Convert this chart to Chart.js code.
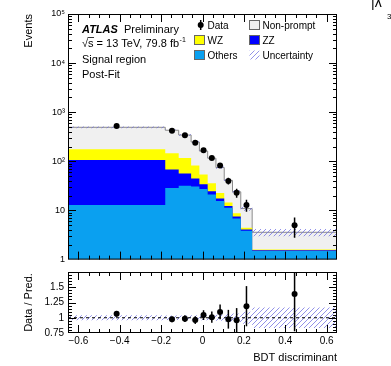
<!DOCTYPE html>
<html>
<head>
<meta charset="utf-8">
<script src="https://cdn.jsdelivr.net/npm/chart.js@4"></script>
<style>
  html, body { margin: 0; padding: 0; background: #fff; }
  #wrap { position: relative; width: 391px; height: 366px; overflow: hidden; }
  canvas { position: absolute; left: 0; }
  #main { top: 0; }
  #ratio { top: 262px; }
</style>
</head>
<body>
<div id="wrap">
  <canvas id="main" width="391" height="268"></canvas>
  <canvas id="ratio" width="391" height="104"></canvas>
</div>
<script>
// BDT bins (variable width)
const binEdges = [-0.65, -0.18, -0.115, -0.055, -0.015, 0.025, 0.065, 0.105, 0.145, 0.185, 0.24, 0.65];

// observed events and their errors
const dataCounts = [526, 419, 339, 238, 169, 117, 82, 40, 23, 13, 5];
const dataErr = [23, 20.5, 18.4, 15.4, 13, 10.8, 9.1, 6.3, 4.8, 3.6, 2.2];

// post-fit predictions per process
const others = [13, 28.6, 32, 30.7, 27.3, 21.1, 15.6, 11.3, 6.85, 3.86, 1.49];
const zz = [94, 39.4, 24.6, 14.3, 7.0, 3.4, 2.0, 1.1, 0.65, 0.24, 0.06];
const wz = [70, 79, 60.4, 37.6, 19.7, 11.4, 5.2, 2.1, 1.3, 0.33, 0.05];
const nonPrompt = [317, 283, 227, 165, 108, 80, 52, 26.5, 15.2, 6.5, 2.0];

// relative uncertainty on the total prediction
const relUnc = [0.04, 0.035, 0.035, 0.04, 0.04, 0.045, 0.05, 0.06, 0.07, 0.1, 0.17];

// axis ticks
const xTicks = [-0.6, -0.4, -0.2, 0, 0.2, 0.4, 0.6];
const logTicks = [1, 10, 100, 1000, 10000, 100000];
const logTickLabels = ['1', '10', '10²', '10³', '10⁴', '10⁵'];
const ratioTicks = [0.75, 1, 1.25, 1.5];
const ratioTickLabels = ['0.75', '1', '1.25', '1.5'];

const FONT = "'Liberation Sans', Arial, Helvetica, sans-serif";
Chart.defaults.font.family = FONT;
Chart.defaults.color = '#000';

const centers = binEdges.slice(0, -1).map((e, i) => (e + binEdges[i + 1]) / 2);

function addUp(a, b) { return a.map((v, i) => v + b[i]); }
const topOthers = others;
const topZZ = addUp(topOthers, zz);
const topWZ = addUp(topZZ, wz);
const total = addUp(topWZ, nonPrompt);

// histogram outline: one point per left edge + closing point
function steps(vals) {
  const pts = vals.map((v, i) => ({x: binEdges[i], y: v}));
  pts.push({x: binEdges[binEdges.length - 1], y: vals[vals.length - 1]});
  return pts;
}

function hatch(ctx) {
  const c = document.createElement('canvas');
  c.width = 5; c.height = 5;
  const g = c.getContext('2d');
  g.strokeStyle = 'rgba(110,110,225,0.75)';
  g.lineWidth = 1;
  g.beginPath();
  g.moveTo(0, 5); g.lineTo(5, 0);
  g.moveTo(-1, 1); g.lineTo(1, -1);
  g.moveTo(4, 6); g.lineTo(6, 4);
  g.stroke();
  return ctx.createPattern(c, 'repeat');
}

function layer(vals, color, order, border) {
  return {
    data: steps(vals), stepped: true, fill: 'start',
    backgroundColor: color, borderColor: border || 'rgba(0,0,0,0)',
    borderWidth: border ? 1 : 0, pointRadius: 0, order: order
  };
}

function fmtX(v) { return v < 0 ? '\u2212' + Math.abs(v) : String(v); }

// error bars drawn through the data markers
function errorBars(ys, errs) {
  return {
    id: 'errBars',
    afterDatasetsDraw(chart) {
      const {ctx, chartArea: a, scales: {x, y}} = chart;
      ctx.save();
      ctx.beginPath();
      ctx.rect(a.left, a.top, a.right - a.left, a.bottom - a.top);
      ctx.clip();
      ctx.strokeStyle = '#000';
      ctx.lineWidth = 1.5;
      centers.forEach((c, i) => {
        const px = x.getPixelForValue(c);
        ctx.beginPath();
        ctx.moveTo(px, y.getPixelForValue(Math.max(ys[i] - errs[i], 1e-3)));
        ctx.lineTo(px, y.getPixelForValue(ys[i] + errs[i]));
        ctx.stroke();
      });
      ctx.restore();
    }
  };
}

// frame with inward ticks on all four sides
const frame = {
  id: 'frame',
  afterDraw(chart) {
    const {ctx, chartArea: a, scales: {x, y}} = chart;
    ctx.save();
    ctx.strokeStyle = '#000';
    ctx.lineWidth = 1;
    ctx.strokeRect(a.left + 0.5, a.top + 0.5, a.right - a.left - 1, a.bottom - a.top - 1);
    ctx.beginPath();
    for (let k = -12; k <= 12; k++) {
      const px = Math.round(x.getPixelForValue(k * 0.05)) + 0.5;
      const len = k % 4 === 0 ? 8 : 4;
      ctx.moveTo(px, a.bottom); ctx.lineTo(px, a.bottom - len);
      ctx.moveTo(px, a.top); ctx.lineTo(px, a.top + len);
    }
    const yt = [];
    if (y.type === 'logarithmic') {
      for (let d = 0; d < 5; d++) {
        for (let m = 1; m <= 9; m++) {
          if (d === 0 && m === 1) continue;
          yt.push({v: m * Math.pow(10, d), major: m === 1});
        }
      }
    } else {
      for (let j = 1; j < 20; j++) yt.push({v: 0.75 + j * 0.05, major: j % 5 === 0});
    }
    yt.forEach(t => {
      const py = Math.round(y.getPixelForValue(t.v)) + 0.5;
      const len = t.major ? 8 : 4;
      ctx.moveTo(a.left, py); ctx.lineTo(a.left + len, py);
      ctx.moveTo(a.right, py); ctx.lineTo(a.right - len, py);
    });
    ctx.stroke();
    ctx.restore();
  }
};

// labels and legend inside the upper panel
const labels = {
  id: 'labels',
  afterDraw(chart) {
    const ctx = chart.ctx;
    ctx.save();
    ctx.fillStyle = '#000';
    ctx.textBaseline = 'alphabetic';
    ctx.textAlign = 'left';

    ctx.font = 'italic bold 11px ' + FONT;
    ctx.fillText('ATLAS', 82, 33);
    ctx.font = '11px ' + FONT;
    ctx.fillText('Preliminary', 124, 33);

    const line = '\u221As = 13 TeV, 79.8 fb';
    ctx.fillText(line, 82, 46.5);
    const wRoot = ctx.measureText('\u221A').width;
    const wS = ctx.measureText('s').width;
    const wLine = ctx.measureText(line).width;
    ctx.strokeStyle = '#000';
    ctx.lineWidth = 0.8;
    ctx.beginPath();
    ctx.moveTo(82 + wRoot - 0.5, 37.5);
    ctx.lineTo(82 + wRoot + wS + 0.5, 37.5);
    ctx.stroke();
    ctx.font = '7px ' + FONT;
    ctx.fillText('-1', 82 + wLine + 0.5, 41.5);

    ctx.font = '11px ' + FONT;
    ctx.fillText('Signal region', 82, 63);
    ctx.fillText('Post-Fit', 82, 77.5);

    // legend
    ctx.font = '10px ' + FONT;
    ctx.beginPath();
    ctx.arc(200.7, 25, 3, 0, Math.PI * 2);
    ctx.fill();
    ctx.lineWidth = 1.5;
    ctx.beginPath();
    ctx.moveTo(200.7, 20); ctx.lineTo(200.7, 30);
    ctx.stroke();
    ctx.fillText('Data', 207.5, 29);

    const boxes = [
      {x: 249.5, y: 20.5, fill: '#f0f0f0', text: 'Non-prompt'},
      {x: 194.5, y: 35.5, fill: '#ffff00', text: 'WZ'},
      {x: 249.5, y: 35.5, fill: '#0000ff', text: 'ZZ'},
      {x: 194.5, y: 50.5, fill: '#0aa0f0', text: 'Others'},
      {x: 249.5, y: 50.5, fill: hatch(ctx), text: 'Uncertainty', noBorder: true}
    ];
    boxes.forEach(b => {
      ctx.fillStyle = b.fill;
      ctx.fillRect(b.x, b.y, 10, 9);
      if (!b.noBorder) {
        ctx.strokeStyle = '#666';
        ctx.lineWidth = 1;
        ctx.strokeRect(b.x, b.y, 10, 9);
      }
      ctx.fillStyle = '#000';
      ctx.fillText(b.text, b.x + 13, b.y + 8.5);
    });

    // neighbouring panel label at the edge
    ctx.font = '14px ' + FONT;
    ctx.fillText('|\u03BB', 371, 7);
    ctx.font = '8px ' + FONT;
    ctx.fillText('3', 387, 18.5);
    ctx.restore();
  }
};

const mainCtx = document.getElementById('main').getContext('2d');
const bandLo = total.map((t, i) => t * (1 - relUnc[i]));
const bandHi = total.map((t, i) => t * (1 + relUnc[i]));

new Chart(mainCtx, {
  type: 'line',
  data: {
    datasets: [
      {
        data: centers.map((c, i) => ({x: c, y: dataCounts[i]})),
        showLine: false, pointRadius: 3, pointBackgroundColor: '#000',
        pointBorderWidth: 0, order: 0
      },
      {data: steps(bandLo), stepped: true, fill: false, borderWidth: 0, pointRadius: 0, order: 1},
      {data: steps(bandHi), stepped: true, fill: 1, backgroundColor: hatch(mainCtx), borderWidth: 0, pointRadius: 0, order: 1},
      layer(topOthers, '#0aa0f0', 2),
      layer(topZZ, '#0000ff', 3),
      layer(topWZ, '#ffff00', 4),
      layer(total, '#f0f0f0', 5, '#8a8a8a')
    ]
  },
  options: {
    responsive: false,
    devicePixelRatio: 1,
    animation: false,
    events: [],
    layout: {padding: {left: 0, right: 54, top: 14, bottom: 1}},
    plugins: {legend: {display: false}, tooltip: {enabled: false}},
    scales: {
      x: {type: 'linear', display: false, min: -0.65, max: 0.65},
      y: {
        type: 'logarithmic', min: 1, max: 100000,
        afterBuildTicks: s => { s.ticks = logTicks.map(v => ({value: v})); },
        afterFit: s => { s.width = 68; },
        grid: {display: false, drawTicks: false},
        border: {display: false},
        ticks: {
          font: {size: 9}, padding: 3, autoSkip: false,
          callback: v => { const i = logTicks.indexOf(v); return i < 0 ? '' : logTickLabels[i]; }
        },
        title: {display: true, text: 'Events', align: 'end', font: {size: 11}, padding: {top: 22, bottom: 0}}
      }
    }
  },
  plugins: [errorBars(dataCounts, dataErr), frame, labels]
});

const ratioCtx = document.getElementById('ratio').getContext('2d');
const ratio = dataCounts.map((d, i) => d / total[i]);
const ratioErr = dataErr.map((e, i) => e / total[i]);

new Chart(ratioCtx, {
  type: 'line',
  data: {
    datasets: [
      {
        data: centers.map((c, i) => ({x: c, y: ratio[i]})),
        showLine: false, pointRadius: 3, pointBackgroundColor: '#000',
        pointBorderWidth: 0, order: 0
      },
      {
        data: [{x: -0.65, y: 1}, {x: 0.65, y: 1}], borderColor: '#000', borderWidth: 1,
        borderDash: [3, 3], pointRadius: 0, fill: false, order: 1
      },
      {data: steps(relUnc.map(u => 1 - u)), stepped: true, fill: false, borderWidth: 0, pointRadius: 0, order: 2},
      {data: steps(relUnc.map(u => 1 + u)), stepped: true, fill: 2, backgroundColor: hatch(ratioCtx), borderWidth: 0, pointRadius: 0, order: 2}
    ]
  },
  options: {
    responsive: false,
    devicePixelRatio: 1,
    animation: false,
    events: [],
    layout: {padding: {left: 0, right: 54, top: 5, bottom: 0}},
    plugins: {legend: {display: false}, tooltip: {enabled: false}},
    scales: {
      x: {
        type: 'linear', min: -0.65, max: 0.65,
        afterBuildTicks: s => { s.ticks = xTicks.map(v => ({value: v})); },
        afterFit: s => { s.height = 33; },
        grid: {display: false, drawTicks: false},
        border: {display: false},
        ticks: {font: {size: 10}, padding: 2, maxRotation: 0, autoSkip: false, callback: v => fmtX(v)},
        title: {display: true, text: 'BDT discriminant', align: 'end', font: {size: 11}, padding: {top: 0, bottom: 1}}
      },
      y: {
        type: 'linear', min: 0.75, max: 1.75,
        afterBuildTicks: s => { s.ticks = ratioTicks.map(v => ({value: v})); },
        afterFit: s => { s.width = 68; },
        grid: {display: false, drawTicks: false},
        border: {display: false},
        ticks: {
          font: {size: 10}, padding: 4, autoSkip: false,
          callback: v => { const i = ratioTicks.indexOf(v); return i < 0 ? '' : ratioTickLabels[i]; }
        },
        title: {display: true, text: 'Data / Pred.', align: 'center', font: {size: 11}, padding: {top: 22, bottom: 0}}
      }
    }
  },
  plugins: [errorBars(ratio, ratioErr), frame]
});
</script>
</body>
</html>
